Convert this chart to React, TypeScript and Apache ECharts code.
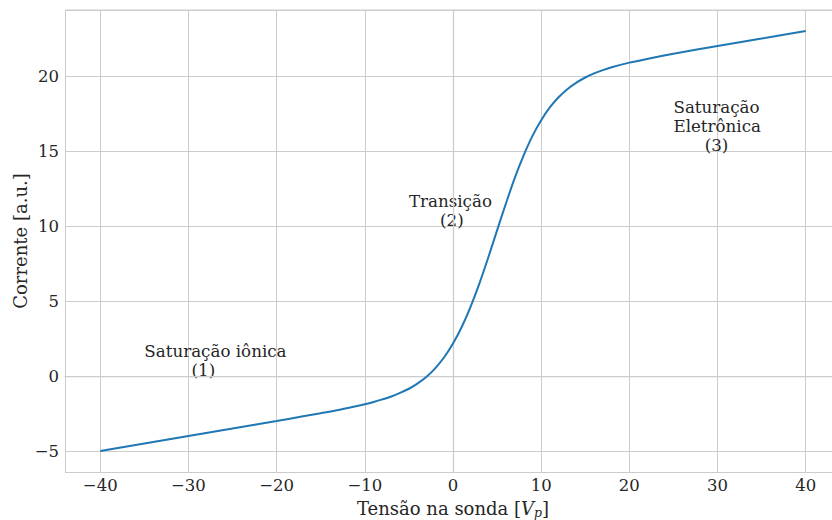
import React, { useEffect, useRef } from "react";
import * as echarts from "echarts";

// Probe voltage (x) and current (y)
const voltage = [-40, -35, -30, -25, -20, -17, -15, -13, -11, -10, -9, -8, -7, -6, -5, -4, -3, -2, -1, 0, 1, 2, 3, 4, 5, 6, 7, 8, 9, 10, 11, 12, 13, 14, 15, 16, 17, 18, 20, 22, 25, 30, 35, 40];
const current = [-5.0, -4.5, -4.0, -3.5, -3.0, -2.69, -2.48, -2.26, -2.01, -1.88, -1.73, -1.56, -1.37, -1.13, -0.85, -0.49, -0.05, 0.53, 1.25, 2.16, 3.28, 4.63, 6.18, 7.9, 9.71, 11.5, 13.19, 14.69, 15.99, 17.05, 17.92, 18.6, 19.14, 19.56, 19.9, 20.17, 20.39, 20.58, 20.89, 21.14, 21.48, 22.0, 22.5, 23.0];

// Annotations: anchor (left edge, baseline of last line) in data coords
const annotationX = [-35, -5, 25];
const annotationY = [0, 10, 15];
const annotationLines = [["Saturação iônica"], ["Transição"], ["Saturação", "Eletrônica"]];
const annotationNumbers = ["(1)", "(2)", "(3)"];

const xLabel = "Tensão na sonda [{i|V}{s|p}]";
const yLabel = "Corrente [a.u.]";

const FONT = "DejaVu Serif";
const TEXT = "#262626";
const GRID = "#cccccc";

export default function App() {
  const ref = useRef<HTMLDivElement>(null);
  useEffect(() => {
    if (!ref.current) return;
    const chart = echarts.init(ref.current, undefined, { renderer: "svg" });
    const minus = (v: number) => String(v).replace("-", "\u2212");
    chart.setOption({
      animation: false,
      backgroundColor: "#ffffff",
      grid: { left: 65, right: 0, top: 10, bottom: 48, containLabel: false, outerBoundsMode: "none" },
      xAxis: {
        type: "value",
        min: -44,
        max: 44,
        splitNumber: 9,
        name: xLabel,
        nameLocation: "middle",
        nameGap: 25,
        nameMoveOverlap: false,
        nameTextStyle: {
          fontFamily: FONT,
          fontSize: 18,
          color: TEXT,
          rich: {
            i: { fontFamily: FONT, fontSize: 18, fontStyle: "italic", color: TEXT, lineHeight: 22, verticalAlign: "middle" },
            s: { fontFamily: FONT, fontSize: 12.5, fontStyle: "italic", color: TEXT, lineHeight: 12, verticalAlign: "bottom" },
          },
        },
        axisLine: { show: true, lineStyle: { color: GRID, width: 1.25 } },
        axisTick: { show: false },
        axisLabel: {
          showMinLabel: false,
          showMaxLabel: false,
          margin: 5,
          fontFamily: FONT,
          fontSize: 16.5,
          color: TEXT,
          formatter: minus,
        },
        splitLine: { show: true, lineStyle: { color: GRID, width: 1 } },
      },
      yAxis: {
        type: "value",
        min: -6.4,
        max: 24.4,
        splitNumber: 6,
        name: yLabel,
        nameLocation: "middle",
        nameGap: 36,
        nameMoveOverlap: false,
        nameTextStyle: { fontFamily: FONT, fontSize: 18, color: TEXT },
        axisLine: { show: true, lineStyle: { color: GRID, width: 1.25 } },
        axisTick: { show: false },
        axisLabel: {
          showMinLabel: false,
          showMaxLabel: false,
          margin: 6,
          fontFamily: FONT,
          fontSize: 16.5,
          color: TEXT,
          formatter: minus,
        },
        splitLine: { show: true, lineStyle: { color: GRID, width: 1 } },
      },
      series: [
        {
          type: "line",
          data: voltage.map((v, i) => [v, current[i]]),
          showSymbol: false,
          smooth: 0.3,
          lineStyle: { color: "#1f77b4", width: 2 },
          itemStyle: { color: "#1f77b4" },
        },
      ],
    });

    const lineH = 19;
    const graphics: any[] = [
      {
        type: "line",
        shape: { x1: 65, y1: 10, x2: 841, y2: 10 },
        style: { stroke: GRID, lineWidth: 1.25 },
        silent: true,
      },
    ];
    annotationX.forEach((ax, k) => {
      const p = chart.convertToPixel({ gridIndex: 0 }, [ax, annotationY[k]]) as number[];
      const baseline = p[1];
      const lines = annotationLines[k];
      const total = lines.length + 1;
      lines.forEach((t, j) => {
        graphics.push({
          type: "text",
          x: p[0],
          y: baseline - 5.7 - (total - 1 - j) * lineH,
          style: { text: t, fill: TEXT, font: `16.7px "${FONT}"`, textAlign: "left", textVerticalAlign: "middle" },
          silent: true,
        });
      });
      const numOffset = k === 0 ? 59 : 43;
      graphics.push({
        type: "text",
        x: p[0] + numOffset,
        y: baseline - 5.7,
        style: { text: annotationNumbers[k], fill: TEXT, font: `16.7px "${FONT}"`, textAlign: "center", textVerticalAlign: "middle" },
        silent: true,
      });
    });
    chart.setOption({ graphic: graphics });

    return () => chart.dispose();
  }, []);
  return (
    <div style={{ position: "fixed", left: 0, top: 0, width: 832, height: 520, overflow: "hidden", background: "#fff" }}>
      <div ref={ref} style={{ width: 841, height: 520 }} />
    </div>
  );
}
